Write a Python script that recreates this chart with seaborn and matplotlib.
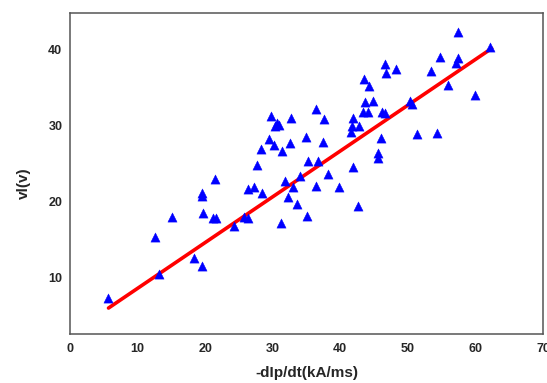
import matplotlib
matplotlib.use("Agg")
import matplotlib.pyplot as plt
import seaborn as sns
import pandas as pd
from matplotlib.ticker import MultipleLocator

# data
x_vals = [5.67, 12.63, 13.14, 15.05, 18.4, 19.48, 19.48, 19.6, 19.74, 21.13, 21.55, 21.5,
          24.33, 25.77, 26.3, 26.3, 27.2, 28.35, 27.7, 28.25, 29.5, 29.8, 30.26, 30.67,
          30.4, 31.0, 31.44, 31.2, 31.8, 32.3, 32.7, 32.6, 33.0, 33.66, 34.1, 34.9, 35.05,
          35.15, 36.44, 36.44, 36.75, 37.47, 37.63, 38.25, 39.8, 41.65, 41.75, 41.86, 41.86,
          42.63, 42.78, 43.3, 43.56, 43.7, 44.07, 44.23, 44.85, 45.6, 45.6, 45.98, 46.13,
          46.65, 46.65, 46.8, 48.2, 50.26, 50.6, 51.4, 53.45, 54.38, 54.8, 55.9, 57.06,
          57.37, 57.37, 59.9, 62.1]
y_vals = [7.37, 15.4, 10.44, 18.04, 12.64, 11.54, 21.2, 20.7, 18.57, 17.82, 17.82, 23.0,
          16.86, 17.95, 17.82, 21.69, 22.0, 21.2, 24.85, 26.96, 28.23, 31.3, 27.48, 30.43,
          30.0, 30.1, 26.69, 17.25, 22.78, 20.59, 31.0, 27.7, 21.9, 19.7, 23.4, 28.58, 18.13,
          25.38, 32.18, 22.08, 25.42, 27.92, 30.9, 23.66, 21.9, 29.24, 29.99, 31.0, 24.63,
          19.49, 30.03, 31.79, 36.18, 33.1, 31.79, 35.3, 33.32, 26.47, 25.8, 28.45, 31.79,
          31.66, 38.1, 36.93, 37.5, 33.28, 32.84, 28.98, 37.23, 29.1, 39.12, 35.39, 38.33,
          38.9, 42.33, 34.07, 40.44]
fit_x = [5.7, 62.4]
fit_y = [6.0, 40.2]
x_ticks = [0, 10, 20, 30, 40, 50, 60, 70]
y_ticks = [10, 20, 30, 40]
x_label = "-dIp/dt(kA/ms)"
y_label = "vl(v)"

sns.set_style("white")
plt.rcParams["font.family"] = ["Liberation Sans", "DejaVu Sans"]

df = pd.DataFrame({"x": x_vals, "y": y_vals})
fit = pd.DataFrame({"x": fit_x, "y": fit_y})

fig = plt.figure(figsize=(5.47, 3.83), dpi=100)
ax = fig.add_axes([70 / 547, 49 / 383, 473 / 547, 320.7 / 383])

sns.lineplot(data=fit, x="x", y="y", ax=ax, color="#ff0000", linewidth=2.6, zorder=2)
sns.scatterplot(data=df, x="x", y="y", ax=ax, marker="^", s=44, color="#0000ff",
                edgecolor="#0000ff", linewidth=0.3, zorder=3)

ax.set_xlim(0, 70)
ax.set_ylim(2.58, 44.83)
ax.set_xticks(x_ticks)
ax.set_yticks(y_ticks)
ax.xaxis.set_minor_locator(MultipleLocator(5))

ax.tick_params(axis="both", which="major", direction="in", length=4.3, width=0.9,
               color="#333333", labelsize=9, pad=5.5)
ax.tick_params(axis="x", which="minor", direction="in", length=2.2, width=0.9,
               color="#333333")
ax.tick_params(axis="x", which="major", pad=6.5)
for lab in ax.get_xticklabels() + ax.get_yticklabels():
    lab.set_fontweight("bold")

for side, sp in ax.spines.items():
    sp.set_visible(True)
    sp.set_linewidth(1.1)
    sp.set_color("#555555")

ax.set_xlabel(x_label, fontsize=11, fontweight="bold")
ax.set_ylabel(y_label, fontsize=11, fontweight="bold")
ax.xaxis.set_label_coords(0.5, -0.10)
ax.yaxis.set_label_coords(-0.082, 0.471)

fig.savefig("out.png", dpi=100)
